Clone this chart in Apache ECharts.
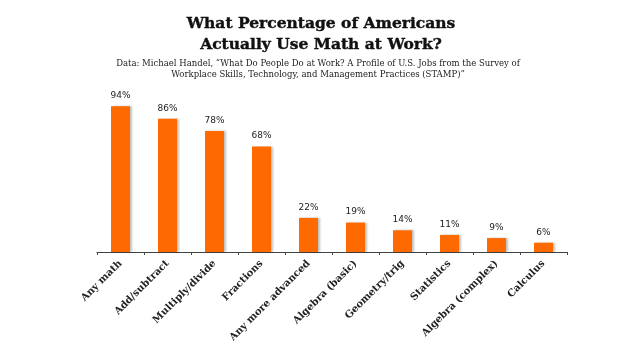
<!DOCTYPE html>
<html><head><meta charset="utf-8">
<script src="https://cdn.jsdelivr.net/npm/echarts@6/dist/echarts.min.js"></script>
<style>html,body{margin:0;padding:0;background:#fff}#c{width:636px;height:358px}</style>
</head><body><div id="c"></div>
<script>
const categories = ["Any math","Add/subtract","Multiply/divide","Fractions","Any more advanced","Algebra (basic)","Geometry/trig","Statistics","Algebra (complex)","Calculus"];
const values = [94,86,78,68,22,19,14,11,9,6];
const titleLines = ["What Percentage of Americans","Actually Use Math at Work?"];
const subtitleLines = ["Data: Michael Handel, \u201cWhat Do People Do at Work? A Profile of U.S. Jobs from the Survey of","Workplace Skills, Technology, and Management Practices (STAMP)\u201d"];
const chart = echarts.init(document.getElementById('c'));
chart.setOption({
  backgroundColor:'#fff',
  animation:false,
  title:[{
    text: titleLines.join('\n'),
    left: 316, top: 8, textAlign:'center',
    textStyle:{fontFamily:'DejaVu Serif', fontWeight:'bold', fontSize:15.5, lineHeight:21, color:'#111', textBorderColor:'#111', textBorderWidth:0.4}
  },{
    text: subtitleLines.join('\n'),
    left: 313, top: 53, textAlign:'center',
    textStyle:{fontFamily:'DejaVu Serif', fontWeight:'normal', fontSize:8.5, lineHeight:11.5, color:'#222'}
  }],
  grid:{left:97, right:69, top:97, bottom:106},
  xAxis:{
    type:'category', data:categories,
    axisLine:{lineStyle:{color:'#444', width:1.2}},
    axisTick:{show:true, length:3, lineStyle:{color:'#444'}},
    axisLabel:{rotate:45, interval:0, margin:10, fontFamily:'DejaVu Serif', fontWeight:'bold', fontSize:10, color:'#222'}
  },
  yAxis:{type:'value', min:0, max:100, show:false, splitLine:{show:false}},
  series:[{
    type:'bar', data:values, barWidth:19,
    itemStyle:{color:'#ff6a00', shadowColor:'rgba(0,0,0,0.25)', shadowOffsetX:2, shadowBlur:2},
    label:{show:true, position:'top', distance:6, formatter:'{c}%', fontFamily:'DejaVu Sans', fontSize:9, color:'#222'}
  }]
});
</script></body></html>
